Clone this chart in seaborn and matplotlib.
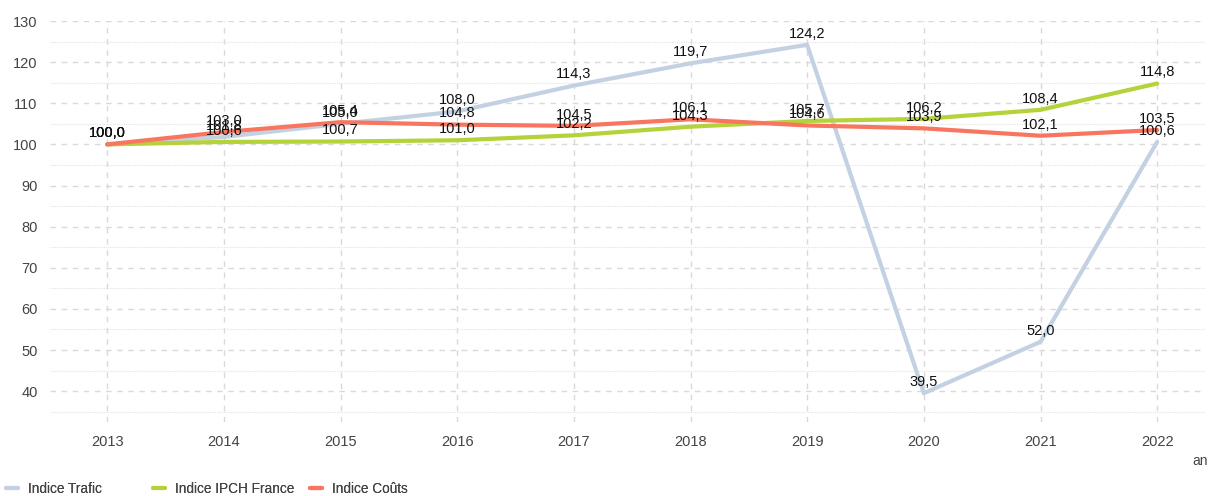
import pandas as pd
import numpy as np
import matplotlib
matplotlib.use("Agg")
import matplotlib.pyplot as plt
import seaborn as sns
from matplotlib.ticker import MultipleLocator

years = [2013, 2014, 2015, 2016, 2017, 2018, 2019, 2020, 2021, 2022]
trafic = [100.0, 101.8, 105.0, 108.0, 114.3, 119.7, 124.2, 39.5, 52.0, 100.6]
ipch = [100.0, 100.6, 100.7, 101.0, 102.2, 104.3, 105.7, 106.2, 108.4, 114.8]
couts = [100.0, 103.0, 105.4, 104.8, 104.5, 106.1, 104.6, 103.9, 102.1, 103.5]

series_names = ["Indice Trafic", "Indice IPCH France", "Indice Coûts"]
colors = ["#c3d1e3", "#b4d23a", "#f8765f"]

df = pd.DataFrame({
    "an": years * 3,
    "valeur": trafic + ipch + couts,
    "serie": [series_names[0]] * 10 + [series_names[1]] * 10 + [series_names[2]] * 10,
})

sns.set_style("white")
plt.rcParams['font.family'] = ['Liberation Sans', 'DejaVu Sans']

fig = plt.figure(figsize=(12.12, 4.96), dpi=100)
ax = fig.add_axes([50 / 1212, 1 - 422 / 496, 1155 / 1212, 401 / 496])

sns.lineplot(data=df, x="an", y="valeur", hue="serie", hue_order=series_names,
             palette=colors, linewidth=3, ax=ax, legend=False)

ax.set_xlim(2012.51, 2022.41)
ax.set_ylim(32.5, 130)
ax.yaxis.set_major_locator(MultipleLocator(10))
ax.yaxis.set_minor_locator(MultipleLocator(5))
ax.set_xticks(years)
ax.set_xticklabels([str(y) for y in years])
ax.grid(which="major", axis="both", color="#d9d9d9", linestyle=(0, (4, 4)), linewidth=1)
ax.grid(which="minor", axis="y", color="#e3e3e3", linestyle=(0, (1, 1)), linewidth=0.8)
ax.set_axisbelow(True)
for s in ax.spines.values():
    s.set_visible(False)
ax.tick_params(axis="y", which="both", length=0, labelsize=10.5, colors="#444444", pad=9)
ax.tick_params(axis="x", which="major", length=4, color="#d0d0d0", labelsize=10.5,
               colors="#444444", pad=5, direction="out")
ax.tick_params(axis="x", which="minor", length=0)
ax.set_xlabel("")
ax.set_ylabel("")

# étiquettes de valeurs
for vals in [trafic, ipch, couts]:
    for x, v in zip(years, vals):
        ax.annotate(f"{v:.1f}".replace(".", ","), (x, v), xytext=(0, 3),
                    textcoords="offset points", ha="center", va="bottom",
                    fontsize=10.5, color="#111111")

fig.text(1200 / 1212, 1 - 461 / 496, "an", ha="center", va="center",
         fontsize=10, color="#444444")

# légende : une entrée par bloc, positions comme dans l'original
leg_x = [6 / 1212, 153 / 1212, 310 / 1212]
for name, c, lx in zip(series_names, colors, leg_x):
    leg = fig.legend([plt.Line2D([], [], color=c, linewidth=3)], [name],
                     loc="center left", bbox_to_anchor=(lx, 1 - 489 / 496),
                     frameon=False, fontsize=9.8, handlelength=0.9,
                     handletextpad=0.7, borderaxespad=0, borderpad=0,
                     labelcolor="#444444")
    fig.add_artist(leg)

fig.savefig("out.png", dpi=100)
